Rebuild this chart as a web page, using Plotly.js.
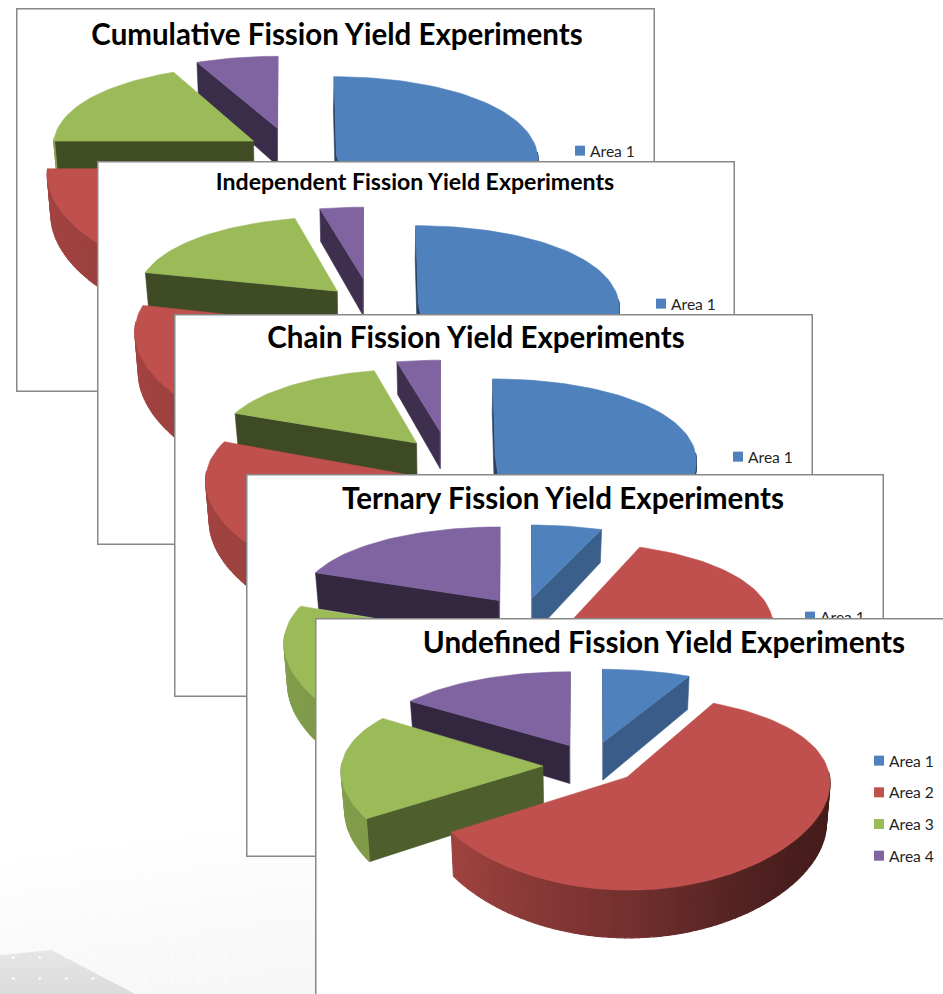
<!DOCTYPE html>
<html>
<head>
<meta charset="utf-8">
<script src="https://cdn.plot.ly/plotly-3.0.1.min.js"></script>
<style>
  html, body { margin: 0; padding: 0; width: 943px; height: 994px; overflow: hidden; background: #fff; }
  #backdrop { position: absolute; left: 0; top: 0; width: 943px; height: 994px;
    background: linear-gradient(172deg, #ffffff 76%, #f9f9f9 86%, #f4f4f4 100%); }
  #wedge-shade { position: absolute; left: 0; top: 950px; width: 135px; height: 44px;
    background: linear-gradient(to bottom, #e6e6e6, #dcdcdc);
    clip-path: polygon(0 12%, 38% 0, 100% 100%, 0 100%); }
  #dots { position: absolute; left: 0; top: 800px; width: 240px; height: 194px; opacity: .8;
    background-image: radial-gradient(circle, #ffffff 1.1px, transparent 1.7px);
    background-size: 26.5px 21px; }
  .panel { position: absolute; }
</style>
</head>
<body>
<div id="backdrop"></div>
<div id="wedge-shade"></div>
<div id="dots"></div>
<div id="stack"></div>
<script>
// Share of experiments per area, in percent
const areaNames = ['Area 1', 'Area 2', 'Area 3', 'Area 4'];
const cumulativeValues  = [47, 28, 18, 7];
const independentValues = [48.5, 30.1, 17.7, 3.7];
const chainValues       = [49, 32, 15.3, 3.7];
const ternaryValues     = [6, 54.5, 20.1, 19.4];
const undefinedValues   = [7.5, 58.6, 18.5, 15.4];

const areaColors = [[79, 129, 189], [192, 80, 77], [155, 187, 89], [128, 100, 162]];

// Chart sheets, back to front; pull and swing set how each wedge is exploded
const sheets = [
  { title: 'Cumulative Fission Yield Experiments',  values: cumulativeValues,  left: 16,  top: 8,   w: 639, h: 384, titleX: 321, titleY: 27, size: 29.5,
    pull: [.24, .27, .21, .27], swing: [17, 5, 0, 0] },
  { title: 'Independent Fission Yield Experiments', values: independentValues, left: 97,  top: 161, w: 638, h: 384, titleX: 318, titleY: 21, size: 23.1,
    pull: [.24, .285, .22, .3], swing: [0, -16, -3, 0] },
  { title: 'Chain Fission Yield Experiments',       values: chainValues,       left: 174, top: 314, w: 639, h: 383, titleX: 302, titleY: 24, size: 29.5,
    pull: [.24, .27, .22, .3], swing: [0, -10, -3, 0] },
  { title: 'Ternary Fission Yield Experiments',     values: ternaryValues,     left: 246, top: 474, w: 638, h: 383, titleX: 317, titleY: 25, size: 29.6,
    pull: [.23, .263, .27, .215], swing: [6, -20, -39, 7] },
  { title: 'Undefined Fission Yield Experiments',   values: undefinedValues,   left: 315, top: 618, w: 700, h: 400, titleX: 349, titleY: 25, size: 29.7,
    pull: [.23, .26, .23, .2], swing: [6, 0, -15, 0] }
];

// Projection of the tilted pie onto the sheet
const view = { cx: 273, cy: 143, radius: 201, rise: 89.7, perspX: .05, perspY: .156, depth: 39, shrink: .015 };

function project(X, Y, Z) {
  const denY = 1 + view.perspY * Y;
  return [
    view.cx + view.radius * X / (1 + view.perspX * Y) * (1 - view.shrink * Z),
    view.cy - view.rise * Y / denY + view.depth * Z / denY
  ];
}

function lerpTable(table, v) {
  if (v <= table[0][0]) return table[0][1];
  for (let i = 1; i < table.length; i++) {
    if (v <= table[i][0]) {
      const a = table[i - 1], b = table[i];
      return a[1] + (b[1] - a[1]) * (v - a[0]) / (b[0] - a[0]);
    }
  }
  return table[table.length - 1][1];
}

// Brightness of the flat cut faces and of the curved rim, by facing direction
const faceLight = [[90, .8], [117, .72], [143, .52], [177, .41], [215, .39], [270, .5]];
const rimLight  = [[80, .34], [130, .38], [150, .44], [180, .6], [233, .82], [280, .86]];

const rgb = (c, k) => `rgb(${c.map(v => Math.round(v * k)).join(',')})`;
const rad = d => d * Math.PI / 180;
const norm = d => ((d % 360) + 360) % 360;

function polygon(points, color, lineWidth) {
  const xs = points.map(p => p[0]), ys = points.map(p => p[1]);
  xs.push(xs[0]); ys.push(ys[0]);
  return { type: 'scatter', mode: 'lines', x: xs, y: ys, fill: 'toself', fillcolor: color,
           line: { color: color, width: lineWidth || .6 }, hoverinfo: 'skip', showlegend: false };
}

function signedArea(p) {
  let s = 0;
  for (let i = 0; i < p.length; i++) {
    const q = p[(i + 1) % p.length];
    s += p[i][0] * q[1] - q[0] * p[i][1];
  }
  return s;
}

function wedgeTraces(from, to, color, pull, swing) {
  const mid = (from + to) / 2;
  const tx = pull * Math.sin(rad(mid + swing)), ty = pull * Math.cos(rad(mid + swing));
  const rimPoint = (a, z) => project(tx + Math.sin(rad(a)), ty + Math.cos(rad(a)), z);
  const cutFace = a => [project(tx, ty, 0), rimPoint(a, 0), rimPoint(a, 1), project(tx, ty, 1)];
  const traces = [];
  // Only the cut faces turned towards the viewer are painted
  const startFace = cutFace(from), endFace = cutFace(to);
  if (signedArea(startFace) < 0) traces.push(polygon(startFace, rgb(color, lerpTable(faceLight, norm(from - 90)))));
  if (signedArea(endFace) > 0) traces.push(polygon(endFace, rgb(color, lerpTable(faceLight, norm(to + 90)))));
  const step = 2;
  for (let a = from; a < to; a += step) {
    const b = Math.min(a + step, to);
    if (Math.cos(rad((a + b) / 2)) > .04) continue;
    traces.push(polygon([rimPoint(a, 0), rimPoint(b, 0), rimPoint(b, 1), rimPoint(a, 1)],
                        rgb(color, lerpTable(rimLight, (a + b) / 2)), 1.1));
  }
  const top = [project(tx, ty, 0)];
  for (let a = from; a < to; a += step) top.push(rimPoint(a, 0));
  top.push(rimPoint(to, 0));
  traces.push(polygon(top, rgb(color, 1)));
  return { mid, traces };
}

function drawSheet(sheet) {
  const total = sheet.values.reduce((s, v) => s + v, 0);
  let angle = 0;
  const wedges = sheet.values.map((v, i) => {
    const from = angle;
    angle += v / total * 360;
    return wedgeTraces(from, angle, areaColors[i], sheet.pull[i], sheet.swing[i]);
  });
  // Paint the far wedges first
  wedges.sort((a, b) => Math.cos(rad(b.mid)) - Math.cos(rad(a.mid)));
  const data = [].concat(...wedges.map(w => w.traces));
  areaNames.forEach((name, i) => {
    data.push({ type: 'scatter', mode: 'markers', x: [null], y: [null], name: name, legendgroup: name,
                marker: { symbol: 'square', size: 10, color: rgb(areaColors[i], 1) } });
  });

  const div = document.createElement('div');
  div.className = 'panel';
  div.style.cssText = `left:${sheet.left}px;top:${sheet.top}px;width:${sheet.w}px;height:${sheet.h}px;`;
  document.getElementById('stack').appendChild(div);

  Plotly.newPlot(div, data, {
    width: sheet.w, height: sheet.h,
    margin: { l: 0, r: 0, t: 0, b: 0 },
    paper_bgcolor: '#ffffff', plot_bgcolor: '#ffffff',
    xaxis: { visible: false, range: [0, sheet.w], fixedrange: true },
    yaxis: { visible: false, range: [sheet.h, 0], fixedrange: true },
    title: { text: sheet.title, x: sheet.titleX / sheet.w, xanchor: 'center',
             y: 1 - sheet.titleY / sheet.h, yanchor: 'middle',
             font: { family: 'Lato, sans-serif', size: sheet.size, color: '#000000', weight: 700 } },
    showlegend: true,
    legend: { x: 534 / sheet.w, xanchor: 'left', y: 1 - 126 / sheet.h, yanchor: 'top',
              bgcolor: 'rgba(0,0,0,0)', tracegroupgap: 8.4, itemclick: false, itemdoubleclick: false,
              font: { family: 'Lato, sans-serif', size: 15.6, color: '#1f1f1f' } },
    shapes: [{ type: 'rect', xref: 'x', yref: 'y', x0: .75, y0: .75, x1: sheet.w - .75, y1: sheet.h - .75,
               line: { color: '#888888', width: 1.5 }, layer: 'above' }]
  }, { displayModeBar: false, staticPlot: true }).then(() => {
    // Bring the legend swatches close to their labels
    div.querySelectorAll('.legendsymbols').forEach(g => g.setAttribute('transform', 'translate(10,0)'));
  });
}

sheets.forEach(drawSheet);
</script>
</body>
</html>
